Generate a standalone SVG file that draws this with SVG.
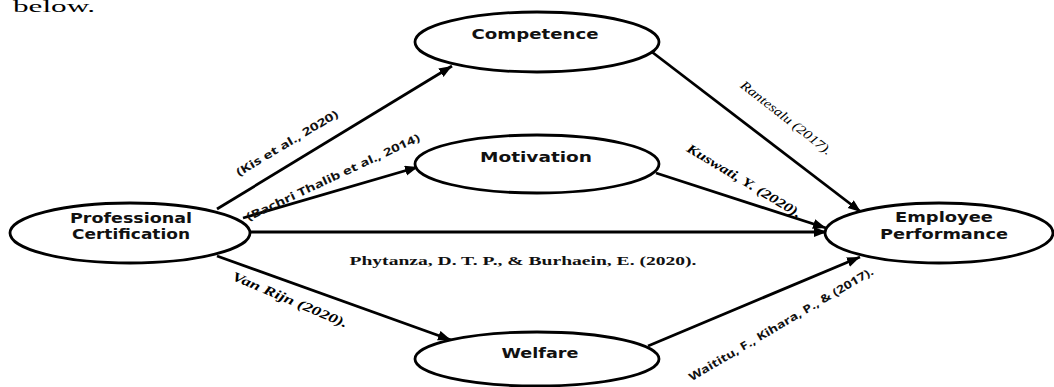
<svg xmlns="http://www.w3.org/2000/svg" width="1054" height="387" viewBox="0 0 1054 387">
<defs>
<marker id="arr" markerUnits="userSpaceOnUse" markerWidth="14" markerHeight="12" refX="13" refY="5" orient="auto">
<path d="M0,0 L13,5 L0,10 Z" fill="#000"/>
</marker>
<style>
.node ellipse{fill:#fff;stroke:#000;stroke-width:2.8}
.nt{font-family:"DejaVu Sans",Verdana,sans-serif;font-weight:bold;font-size:14px;text-anchor:middle;fill:#111}
.edge{stroke:#000;stroke-width:2.8;fill:none;marker-end:url(#arr)}
.ls{font-family:"Open Sans","DejaVu Sans",sans-serif;font-weight:bold;font-size:11px;text-anchor:middle;fill:#111}
.lr{font-family:"Liberation Serif","Times New Roman",serif;font-style:italic;font-size:13px;text-anchor:middle;fill:#000}
.lb{font-family:"Liberation Serif","Times New Roman",serif;font-weight:bold;font-size:13px;text-anchor:middle;fill:#111}
</style>
</defs>
<rect width="1054" height="387" fill="#fff"/>
<text x="13" y="12" font-family="Liberation Serif,serif" font-size="16" textLength="82" lengthAdjust="spacingAndGlyphs">below.</text>
<g id="connectors">
<line class="edge" x1="217" y1="209" x2="452" y2="66"/>
<line class="edge" x1="243" y1="218" x2="418" y2="167"/>
<line class="edge" x1="250" y1="232" x2="827" y2="232"/>
<line class="edge" x1="217" y1="256" x2="451" y2="340"/>
<line class="edge" x1="652" y1="52" x2="861" y2="212"/>
<line class="edge" x1="656" y1="173" x2="826" y2="228"/>
<line class="edge" x1="648" y1="346" x2="860" y2="257"/>
<text class="ls" transform="translate(287,143) rotate(-31)" dy="4" textLength="117" lengthAdjust="spacingAndGlyphs">(Kis et al., 2020)</text>
<text class="ls" transform="translate(333,177) rotate(-25)" dy="4" textLength="190" lengthAdjust="spacingAndGlyphs">(Bachri Thalib et al., 2014)</text>
<text class="lr" transform="translate(786,118) rotate(38)" dy="4" textLength="112" lengthAdjust="spacingAndGlyphs">Rantesalu (2017).</text>
<text class="lr" font-weight="bold" transform="translate(744,181) rotate(31)" dy="4" textLength="131" lengthAdjust="spacingAndGlyphs">Kuswati, Y. (2020).</text>
<text class="lb" x="523" y="265" textLength="347" lengthAdjust="spacingAndGlyphs">Phytanza, D. T. P., &amp; Burhaein, E. (2020).</text>
<text class="lr" font-weight="bold" transform="translate(290,300) rotate(23)" dy="4" textLength="124" lengthAdjust="spacingAndGlyphs">Van Rijn (2020).</text>
<text class="ls" font-weight="normal" font-size="12" transform="translate(781,324) rotate(-30.5)" dy="4" textLength="212" lengthAdjust="spacingAndGlyphs">Waititu, F., Kihara, P., &amp; (2017).</text>
</g>
<g id="pc" class="node">
<ellipse cx="130" cy="233" rx="120" ry="30"/>
<text class="nt" x="131" y="223" textLength="122" lengthAdjust="spacingAndGlyphs">Professional</text>
<text class="nt" x="131" y="239" textLength="118" lengthAdjust="spacingAndGlyphs">Certification</text>
</g>
<g id="competence" class="node">
<ellipse cx="537" cy="42" rx="122" ry="30"/>
<text class="nt" x="535" y="39" textLength="127" lengthAdjust="spacingAndGlyphs">Competence</text>
</g>
<g id="motivation" class="node">
<ellipse cx="537" cy="164" rx="122" ry="29"/>
<text class="nt" x="536" y="162" textLength="112" lengthAdjust="spacingAndGlyphs">Motivation</text>
</g>
<g id="welfare" class="node">
<ellipse cx="537" cy="359" rx="122" ry="27"/>
<text class="nt" x="540" y="358" textLength="77" lengthAdjust="spacingAndGlyphs">Welfare</text>
</g>
<g id="ep" class="node">
<ellipse cx="939" cy="233" rx="114" ry="30"/>
<text class="nt" x="944" y="222" textLength="98" lengthAdjust="spacingAndGlyphs">Employee</text>
<text class="nt" x="944" y="239" textLength="128" lengthAdjust="spacingAndGlyphs">Performance</text>
</g>
</svg>
